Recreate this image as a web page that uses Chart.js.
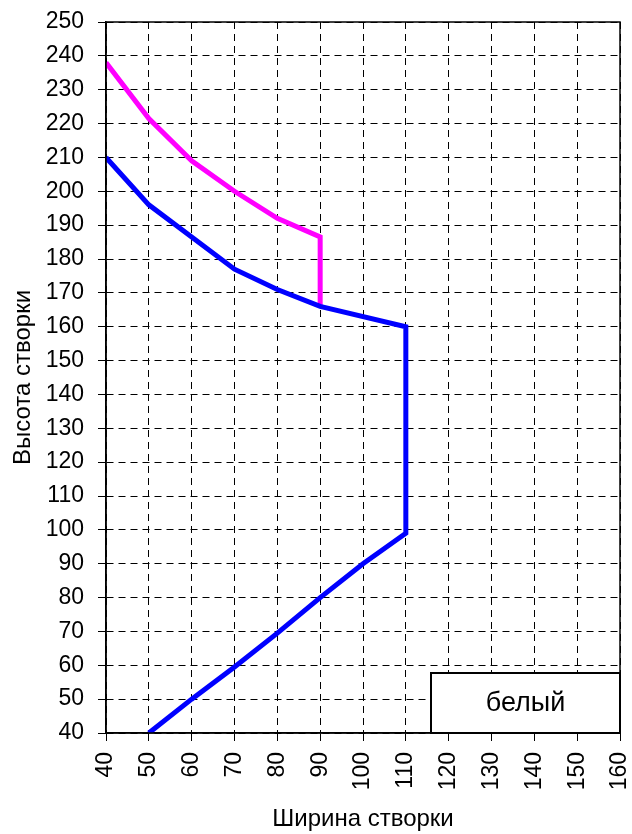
<!DOCTYPE html>
<html>
<head>
<meta charset="utf-8">
<script src="https://cdn.jsdelivr.net/npm/chart.js@4.4.1/dist/chart.umd.min.js"></script>
<style>
  html, body { margin: 0; padding: 0; background: #fff; }
  #wrap { width: 632px; height: 834px; }
</style>
</head>
<body>
<div id="wrap"><canvas id="sashChart"></canvas></div>
<script>
// Ширина / высота створки
const blueWidth  = [50, 60, 70, 80, 90, 100, 110, 110, 90, 80, 70, 60, 50, 40];
const blueHeight = [40, 50, 59.5, 69.5, 80, 90, 99, 160, 166, 171, 177, 186.5, 196, 210];

const pinkWidth  = [40, 50, 60, 70, 80, 90, 90];
const pinkHeight = [238, 221.5, 209, 200, 192, 186.5, 166];

const legendLabel = 'белый';
const xTitle = 'Ширина створки';
const yTitle = 'Высота створки';

const FONT = "'Liberation Sans', Arial, sans-serif";

function toPoints(xs, ys) {
    return xs.map((x, i) => ({ x: x, y: ys[i] }));
}

// рамка области построения и подпись "белый"
const frameAndLabel = {
    id: 'frameAndLabel',
    afterDraw(chart) {
        const { ctx, chartArea } = chart;
        ctx.save();
        ctx.setLineDash([]);
        ctx.strokeStyle = '#000';
        ctx.lineWidth = 1.5;
        ctx.strokeRect(chartArea.left, chartArea.top,
            chartArea.right - chartArea.left, chartArea.bottom - chartArea.top);

        const w = 189, h = 60;
        const bx = chartArea.right - w, by = chartArea.bottom - h;
        ctx.fillStyle = '#fff';
        ctx.fillRect(bx, by, w, h);
        ctx.lineWidth = 2;
        ctx.strokeRect(bx, by, w, h);
        ctx.fillStyle = '#000';
        ctx.font = '27px ' + FONT;
        ctx.textAlign = 'center';
        ctx.textBaseline = 'middle';
        ctx.fillText(legendLabel, bx + w / 2, by + h / 2 + 1);
        ctx.restore();
    }
};

const chart = new Chart(document.getElementById('sashChart'), {
    type: 'scatter',
    data: {
        datasets: [
            {
                label: legendLabel,
                data: toPoints(blueWidth, blueHeight),
                showLine: true,
                borderColor: '#0000ff',
                borderWidth: 5,
                pointRadius: 0,
                tension: 0,
                borderJoinStyle: 'miter'
            },
            {
                label: legendLabel,
                data: toPoints(pinkWidth, pinkHeight),
                showLine: true,
                borderColor: '#ff00ff',
                borderWidth: 5,
                pointRadius: 0,
                tension: 0,
                borderJoinStyle: 'miter'
            }
        ]
    },
    options: {
        responsive: true,
        maintainAspectRatio: false,
        animation: false,
        layout: { padding: { top: 22, right: 12, left: 0, bottom: 0 } },
        plugins: {
            legend: { display: false },
            tooltip: { enabled: false }
        },
        scales: {
            x: {
                type: 'linear',
                min: 40,
                max: 160,
                ticks: {
                    stepSize: 10,
                    minRotation: 90,
                    maxRotation: 90,
                    color: '#000',
                    padding: 11,
                    font: { family: FONT, size: 23 }
                },
                grid: {
                    color: '#000',
                    lineWidth: 1,
                    drawTicks: true,
                    tickLength: 8,
                    tickColor: '#000',
                    tickBorderDash: []
                },
                border: { display: true, color: '#000', width: 1.5, dash: [7, 5] },
                title: {
                    display: true,
                    text: xTitle,
                    color: '#000',
                    font: { family: FONT, size: 24 },
                    padding: { top: 0, bottom: 0 }
                },
                afterFit(scale) {
                    scale.height = 101;
                    scale.paddingLeft = 0;
                    scale.paddingRight = 0;
                }
            },
            y: {
                type: 'linear',
                min: 40,
                max: 250,
                ticks: {
                    stepSize: 10,
                    color: '#000',
                    padding: 14,
                    font: { family: FONT, size: 23 }
                },
                grid: {
                    color: '#000',
                    lineWidth: 1,
                    drawTicks: true,
                    tickLength: 8,
                    tickColor: '#000',
                    tickBorderDash: []
                },
                border: { display: true, color: '#000', width: 1.5, dash: [7, 5] },
                title: {
                    display: true,
                    text: yTitle,
                    color: '#000',
                    font: { family: FONT, size: 24 },
                    padding: { top: 9, bottom: 0 }
                },
                afterFit(scale) {
                    scale.width = 106;
                    scale.paddingTop = 0;
                    scale.paddingBottom = 0;
                }
            }
        }
    },
    plugins: [frameAndLabel]
});
</script>
</body>
</html>
